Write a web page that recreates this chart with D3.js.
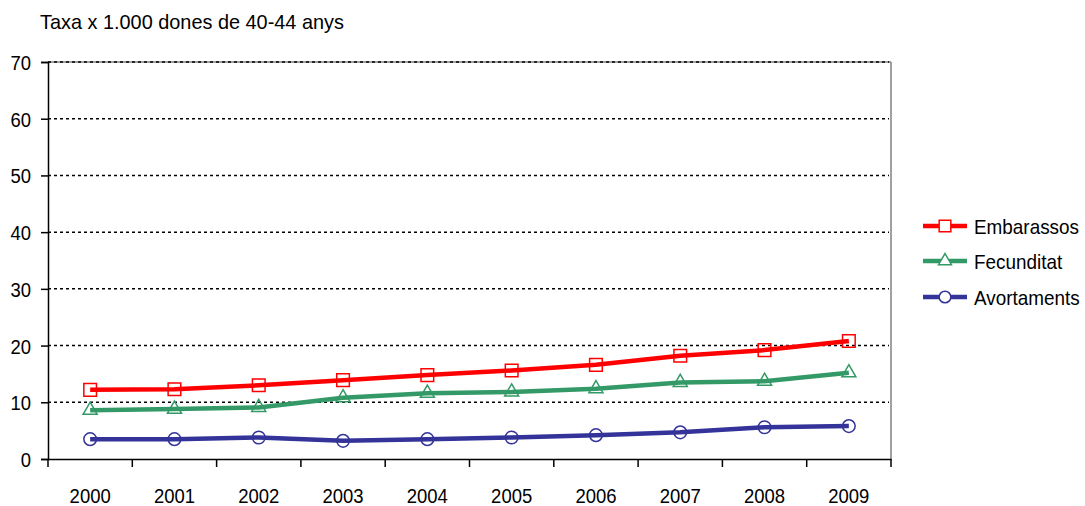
<!DOCTYPE html>
<html><head><meta charset="utf-8">
<script src="https://cdn.jsdelivr.net/npm/d3@7"></script>
<style>
body{margin:0;background:#fff;}
svg text{font-family:"Liberation Sans",Arial,sans-serif;fill:#000;}
</style></head><body>
<svg id="c" width="1085" height="506"></svg>
<script>
const years = ["2000","2001","2002","2003","2004","2005","2006","2007","2008","2009"];
const embarassos = [12.2,12.3,13.0,13.9,14.8,15.6,16.6,18.2,19.2,20.8];
const fecunditat = [8.6,8.8,9.1,10.8,11.6,11.8,12.4,13.5,13.7,15.2];
const avortaments = [3.5,3.5,3.8,3.2,3.5,3.8,4.2,4.7,5.6,5.8];
const yTicks = [0,10,20,30,40,50,60,70];
const seriesNames = ["Embarassos","Fecunditat","Avortaments"];
const seriesColors = ["#ff0000","#339966","#333399"];
const seriesSymbols = [d3.symbolSquare, d3.symbolTriangle, d3.symbolCircle];
const title = "Taxa x 1.000 dones de 40-44 anys";

const svg = d3.select("#c");
const L=48, R=891, T=62, B=459;
const x = d3.scaleBand().domain(years).range([L,R]);
const y = d3.scaleLinear().domain([0,70]).range([B,T]);
const FS = 21, SX = 0.88, SXL = 0.9;

svg.append("text").attr("x",40).attr("y",29).attr("font-size",20.5)
  .attr("transform","translate(40,0) scale(0.97,1) translate(-40,0)").text(title);

// frame top/right
svg.append("line").attr("x1",L).attr("x2",R).attr("y1",T).attr("y2",T).attr("stroke","#808080").attr("stroke-width",1.5);
svg.append("line").attr("x1",R).attr("x2",R).attr("y1",T).attr("y2",B).attr("stroke","#808080").attr("stroke-width",1.5);

// grid
svg.append("g").selectAll("line").data(yTicks.filter(d=>d>0)).join("line")
  .attr("x1",L).attr("x2",R-2).attr("y1",d=>y(d)).attr("y2",d=>y(d))
  .attr("stroke","#000").attr("stroke-width",1.5).attr("stroke-dasharray","3,3");

// y axis
const ya = svg.append("g").attr("transform",`translate(${L},0)`)
  .call(d3.axisLeft(y).tickValues(yTicks).tickSize(7).tickPadding(10).tickFormat(d3.format("d")));
ya.select(".domain").attr("stroke","#000").attr("stroke-width",1.5);
ya.selectAll(".tick line").attr("stroke","#000").attr("stroke-width",1.5);
ya.selectAll("text").attr("font-size",FS).attr("dy","0.36em")
  .attr("transform",`translate(-17,0) scale(${SX},1) translate(17,0)`);

// x axis with ticks at band boundaries
const xa = svg.append("g").attr("transform",`translate(0,${B})`)
  .call(d3.axisBottom(x).tickSize(0).tickPadding(44));
xa.select(".domain").attr("stroke","#000").attr("stroke-width",1.5);
xa.selectAll("text").attr("font-size",FS).attr("dy","0").attr("transform",`scale(${SX},1)`);
const bounds = years.map(d=>x(d)).concat([x(years[years.length-1])+x.bandwidth()]);
xa.selectAll("line.bt").data(bounds).join("line").attr("class","bt")
  .attr("x1",d=>d).attr("x2",d=>d).attr("y1",0).attr("y2",8)
  .attr("stroke","#000").attr("stroke-width",1.5);

const allSeries = [embarassos, fecunditat, avortaments];
const line = d3.line().x((d,i)=>x(years[i])+x.bandwidth()/2).y(d=>y(d));
const sizes = [160,85,125];

allSeries.forEach((vals,k)=>{
  const g = svg.append("g");
  g.append("path").datum(vals).attr("d",line).attr("fill","none")
    .attr("stroke",seriesColors[k]).attr("stroke-width",4.5).attr("stroke-linejoin","round");
  g.selectAll("path.m").data(vals).join("path").attr("class","m")
    .attr("transform",(d,i)=>`translate(${x(years[i])+x.bandwidth()/2},${y(d)})`)
    .attr("d",d3.symbol().type(seriesSymbols[k]).size(sizes[k]))
    .attr("fill","none").attr("stroke",seriesColors[k]).attr("stroke-width",1.5);
});

// legend
const lg = svg.append("g");
const ly = [226, 261, 297];
seriesNames.forEach((n,k)=>{
  lg.append("line").attr("x1",923).attr("x2",967).attr("y1",ly[k]).attr("y2",ly[k])
    .attr("stroke",seriesColors[k]).attr("stroke-width",4.5);
  lg.append("path").attr("transform",`translate(945,${ly[k]})`)
    .attr("d",d3.symbol().type(seriesSymbols[k]).size(sizes[k]*0.85))
    .attr("fill","#fff").attr("stroke",seriesColors[k]).attr("stroke-width",1.5);
  lg.append("text").attr("x",974).attr("y",ly[k]).attr("dy","0.36em").attr("font-size",FS)
    .attr("transform",`translate(974,0) scale(${SXL},1) translate(-974,0)`).text(n);
});
</script></body></html>
